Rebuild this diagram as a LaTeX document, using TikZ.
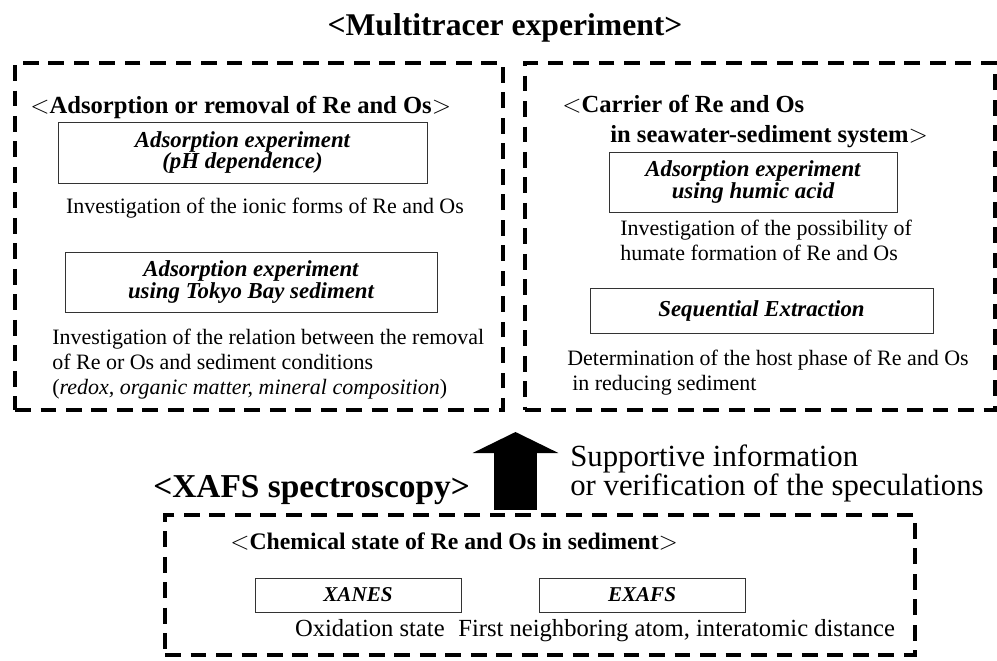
\documentclass[tikz,border=0pt]{standalone}
\usepackage{fontspec}
\setmainfont{Liberation Serif}
\usetikzlibrary{arrows.meta}

\tikzset{
  regionbox/.style={draw, line width=1.9pt, dash pattern=on 9pt off 5.5pt, inner sep=0pt},
  expbox/.style={draw=black!80, line width=0.5pt, align=center, inner sep=0pt,
    font=\fontsize{13}{12.5}\selectfont\bfseries\itshape},
  headtext/.style={font=\fontsize{14}{17}\selectfont\bfseries, inner sep=0pt, align=left},
  bodytext/.style={font=\fontsize{12.5}{14}\selectfont, inner sep=0pt, align=left},
  bigtitle/.style={font=\fontsize{18}{20}\selectfont\bfseries, inner sep=0pt},
  bigarrow/.style={line width=0.86cm, -{Triangle[width=1.7cm, length=0.42cm]}},
}

\begin{document}
\begin{tikzpicture}[x=0.02cm, y=-0.02cm]
  \useasboundingbox (0,0) rectangle (997,660);

  \node[bigtitle, anchor=base] (mttitle) at (505,35) {<Multitracer experiment>};

  \node[regionbox, minimum width=9.76cm, minimum height=6.94cm] (adsregion) at (259,236.5) {};
  \node[regionbox, minimum width=9.4cm, minimum height=6.94cm] (carrierregion) at (760,236.5) {};

  \node[headtext, anchor=base west] (adshead) at (30,113) {$<$Adsorption or removal of Re and Os$>$};
  \node[expbox, minimum width=7.38cm, minimum height=1.22cm] (phexp) at (242.5,152.5)
    {Adsorption experiment\\(pH dependence)};
  \node[bodytext, anchor=base] (ionicforms) at (265,213) {Investigation of the ionic forms of Re and Os};
  \node[expbox, minimum width=7.44cm, minimum height=1.2cm] (bayexp) at (251,282)
    {Adsorption experiment\\using Tokyo Bay sediment};
  \node[bodytext, anchor=north west] (relation) at (52,329)
    {Investigation of the relation between the removal\\of Re or Os and sediment conditions\\(\textit{redox, organic matter, mineral composition})};

  \node[headtext, anchor=north west] (carrierhead) at (562,95)
    {$<$Carrier of Re and Os\\\hspace*{0.96cm}in seawater-sediment system$>$};
  \node[expbox, minimum width=5.76cm, minimum height=1.2cm] (humicexp) at (753,182)
    {Adsorption experiment\\using humic acid};
  \node[bodytext, anchor=north west] (humate) at (620,220)
    {Investigation of the possibility of\\humate formation of Re and Os};
  \node[expbox, minimum width=6.86cm, minimum height=0.9cm] (seqext) at (761.5,310.5) {Sequential Extraction};
  \node[bodytext, anchor=north west] (hostphase) at (567,350)
    {Determination of the host phase of Re and Os\\\hspace*{0.1cm}in reducing sediment};

  \coordinate (arrowfoot) at (515.5,510);
  \coordinate (arrowtip) at (515.5,432);
  \draw[bigarrow] (arrowfoot) -- (arrowtip);
  \node[anchor=north west, font=\fontsize{17.5}{17}\selectfont, inner sep=0pt, align=left] (support) at (570,444)
    {Supportive information\\or verification of the speculations};

  \node[bigtitle, font=\fontsize{19}{20}\selectfont\bfseries, anchor=base west] (xafstitle) at (153,497) {<XAFS spectroscopy>};
  \node[regionbox, minimum width=15cm, minimum height=2.8cm] (xafsregion) at (540,585) {};
  \node[headtext, font=\fontsize{13.5}{14}\selectfont\bfseries, anchor=base west] (chemhead) at (230,549)
    {$<$Chemical state of Re and Os in sediment$>$};
  \node[expbox, font=\fontsize{12}{12}\selectfont\bfseries\itshape, minimum width=4.12cm, minimum height=0.68cm] (xanes) at (358,595) {XANES};
  \node[expbox, font=\fontsize{12}{12}\selectfont\bfseries\itshape, minimum width=4.12cm, minimum height=0.68cm] (exafs) at (642,595) {EXAFS};
  \node[bodytext, font=\fontsize{14}{14}\selectfont, anchor=base east] (oxstate) at (445,636) {Oxidation state};
  \node[bodytext, font=\fontsize{14}{14}\selectfont, anchor=base west] (neighbor) at (458,636) {First neighboring atom, interatomic distance};
\end{tikzpicture}
\end{document}
